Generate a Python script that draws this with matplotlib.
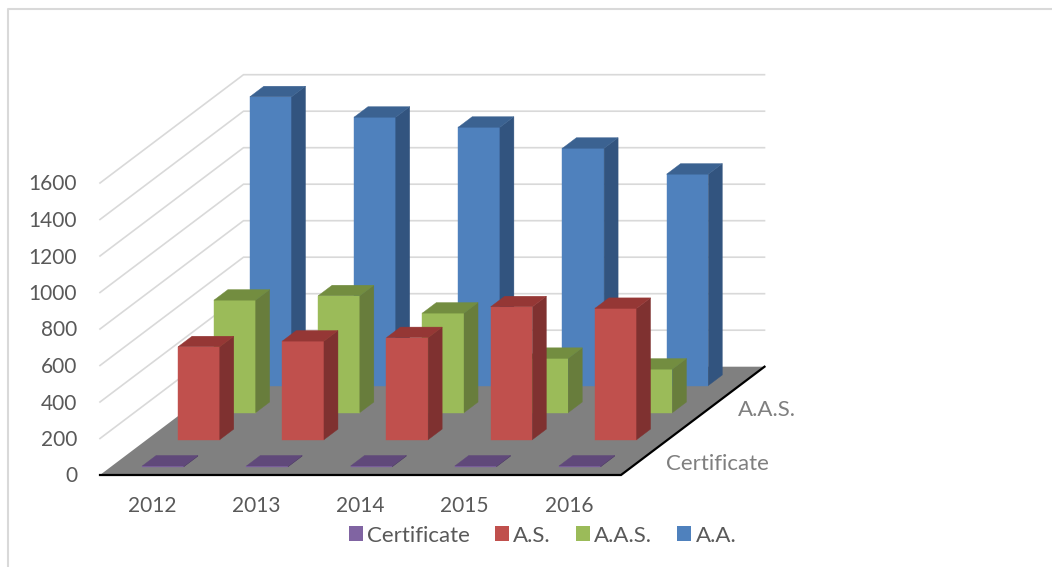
import matplotlib
matplotlib.use('Agg')
import matplotlib.pyplot as plt
from matplotlib.patches import Patch, Polygon

plt.rcParams['font.family'] = ['Lato', 'DejaVu Sans']

# Chart data
years = ['2012', '2013', '2014', '2015', '2016']
series_names = ['Certificate', 'A.S.', 'A.A.S.', 'A.A.']
certificate = [4, 4, 4, 4, 4]
associate_science = [509, 540, 559, 728, 719]
associate_applied = [616, 640, 545, 297, 238]
associate_arts = [1582, 1470, 1415, 1300, 1158]
y_ticks = [0, 200, 400, 600, 800, 1000, 1200, 1400, 1600]
depth_labels = {0: 'Certificate', 2: 'A.A.S.'}

# front, side, top colours per series
colors = [('#8064a2', '#4e3b66', '#60497a'),
          ('#c0504d', '#7f3130', '#953735'),
          ('#9bbb59', '#687d3c', '#738d40'),
          ('#4f81bd', '#32547f', '#3b6291')]

# Oblique projection of the 3d box, in pixels of the picture
X0, Y0 = 100.0, 475.0
SLOT_W = 521.0 / 5
DEPTH_DX, DEPTH_DY = 143.5 / 4, 108.3 / 4
PX_PER_UNIT = 292.0 / 1600
BAR_W = 0.40
BAR_D = 0.39


def project(x, d, v):
    return (X0 + x * SLOT_W + d * DEPTH_DX,
            Y0 - d * DEPTH_DY - v * PX_PER_UNIT)


def draw_bar(ax, i, depth, value, cols):
    x0, x1 = i + 0.5 - BAR_W / 2, i + 0.5 + BAR_W / 2
    d0, d1 = depth + 0.5 - BAR_D / 2, depth + 0.5 + BAR_D / 2
    faces = [
        ([(x0, d0, 0), (x1, d0, 0), (x1, d0, value), (x0, d0, value)], cols[0]),
        ([(x1, d0, 0), (x1, d1, 0), (x1, d1, value), (x1, d0, value)], cols[1]),
        ([(x0, d0, value), (x1, d0, value), (x1, d1, value), (x0, d1, value)], cols[2]),
    ]
    for pts, col in faces:
        ax.add_patch(Polygon([project(*p) for p in pts], closed=True,
                             facecolor=col, edgecolor=col, linewidth=0.3, zorder=3))


fig = plt.figure(figsize=(10.52, 5.67), dpi=100)
ax = fig.add_axes([0, 0, 1, 1])
ax.set_xlim(0, 1052)
ax.set_ylim(567, 0)
ax.axis('off')

# outer frame, only top and left show in the crop
ax.plot([7.5, 7.5, 1052], [567, 8.5, 8.5], color='#d9d9d9', lw=1.5, zorder=1)

# walls
n = len(years)
for v in y_ticks[1:]:
    p0, p1, p2 = project(0, 0, v), project(0, 4, v), project(n, 4, v)
    ax.plot([p0[0], p1[0], p2[0]], [p0[1], p1[1], p2[1]],
            color='#d9d9d9', lw=1.2, solid_joinstyle='miter', zorder=1)

# floor
floor = [project(0, 0, 0), project(n, 0, 0), project(n, 4, 0), project(0, 4, 0)]
ax.add_patch(Polygon(floor, closed=True, facecolor='#808080', edgecolor='none', zorder=2))
edge = [project(0, 0, 0), project(n, 0, 0), project(n, 4, 0)]
ax.plot([p[0] for p in edge], [p[1] for p in edge], color='black', lw=1.6,
        solid_joinstyle='miter', zorder=2)

# bars, back series first so the front ones cover them
all_series = [certificate, associate_science, associate_applied, associate_arts]
for depth in range(len(all_series) - 1, -1, -1):
    for i, value in enumerate(all_series[depth]):
        draw_bar(ax, i, depth, value, colors[depth])

# axis labels
for v in y_ticks:
    ax.text(77, project(0, 0, v)[1] + 1.5, str(v), ha='right', va='center',
            fontsize=15, color='#595959')
for i, year in enumerate(years):
    ax.text(project(i + 0.5, 0, 0)[0], 506, year, ha='center', va='center',
            fontsize=15, color='#595959')
for depth, label in depth_labels.items():
    px, py = project(n, depth + 0.5, 0)
    ax.text(px + 27, py + 3, label, ha='left', va='center',
            fontsize=16, color='#7f7f7f')

handles = [Patch(facecolor=colors[k][0], edgecolor='none', label=series_names[k])
           for k in range(len(series_names))]
ax.legend(handles=handles, ncol=4, loc='center', bbox_to_anchor=(542.5 / 1052, 1 - 535.5 / 567),
          frameon=False, fontsize=16, labelcolor='#595959', handlelength=0.63,
          handleheight=0.63, handletextpad=0.2, columnspacing=1.12, borderpad=0)

fig.savefig('out.png', dpi=100)
